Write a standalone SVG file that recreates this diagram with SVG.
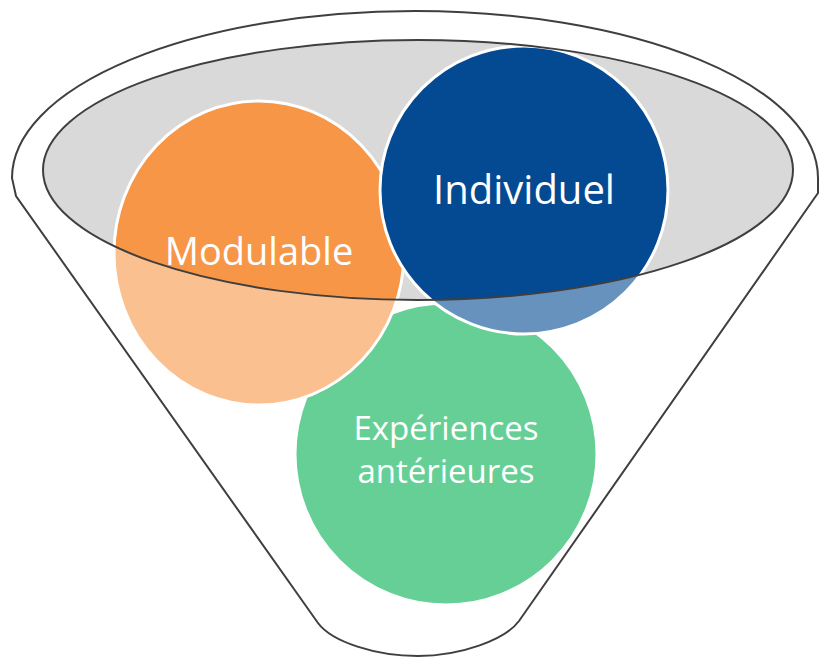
<svg xmlns="http://www.w3.org/2000/svg" width="819" height="657" viewBox="0 0 819 657">
<style>
.lbl{font-family:"Open Sans","Liberation Sans",sans-serif;fill:#ffffff;text-anchor:middle}
.ring{stroke:#ffffff;stroke-width:3}
.line{fill:none;stroke:#3f3f3f;stroke-width:2}
</style>
<rect width="819" height="657" fill="#ffffff"/>
<g id="funnel">
<path d="M16,196 L12,178 A403,167 0 0 1 818,178 L818,193 L519,621 C505,640 460,656 418,656 C376,656 332,642 318,623 Z" fill="#ffffff"/>
<ellipse cx="418" cy="170" rx="375" ry="130" fill="#d9d9d9"/>
</g>
<g id="experiences">
<circle class="ring" cx="446" cy="454" r="151" fill="#00b050"/>
<text class="lbl" x="446" y="440" font-size="33">Expériences</text>
<text class="lbl" x="446" y="483" font-size="33">antérieures</text>
</g>
<g id="modulable">
<ellipse class="ring" cx="259" cy="253" rx="145" ry="152" fill="#f79646"/>
<text class="lbl" x="259" y="265" font-size="38">Modulable</text>
</g>
<g id="individuel">
<circle class="ring" cx="524" cy="190" r="144" fill="#034a93"/>
<text class="lbl" x="524" y="204" font-size="40">Individuel</text>
</g>
<g id="overlay">
<path d="M0,0 H819 V657 H0 Z M43,170 A375,130 0 1 0 793,170 A375,130 0 1 0 43,170 Z" fill="#ffffff" fill-opacity="0.4" fill-rule="evenodd"/>
<ellipse class="line" cx="418" cy="170" rx="375" ry="130"/>
<path class="line" d="M16,196 L12,178 A403,167 0 0 1 818,178 L818,193 L519,621 C505,640 460,656 418,656 C376,656 332,642 318,623 Z"/>
</g>
</svg>
